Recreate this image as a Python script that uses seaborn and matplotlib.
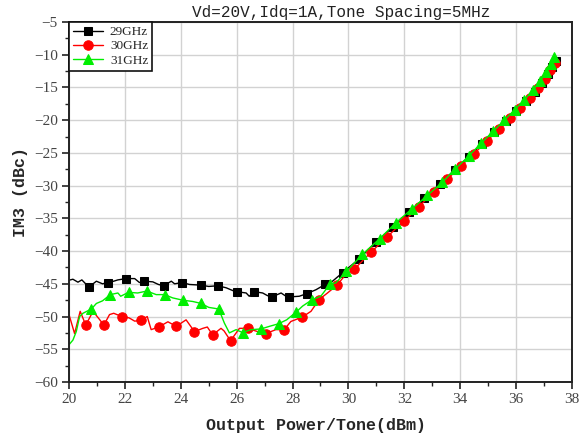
import numpy as np
import pandas as pd
import matplotlib
matplotlib.use("Agg")
import matplotlib.pyplot as plt
import seaborn as sns
from matplotlib.ticker import MultipleLocator

# ---------------- data ----------------
series_names = ["29GHz", "30GHz", "31GHz"]

# 29 GHz: marker points
x29_mk = [20.71, 21.39, 22.05, 22.70, 23.39, 24.05, 24.71, 25.32, 26.00, 26.63, 27.26, 27.88,
          28.51, 29.16, 29.79, 30.38, 30.98, 31.60, 32.17, 32.72, 33.28, 33.80, 34.30, 34.78,
          35.22, 35.63, 36.00, 36.35, 36.66, 36.93, 37.15, 37.30, 37.42]
y29_mk = [-45.5, -44.8, -44.2, -44.6, -45.3, -44.8, -45.2, -45.3, -46.2, -46.2, -47.0, -47.0,
          -46.5, -45.1, -43.3, -41.2, -38.6, -36.3, -34.1, -31.9, -29.7, -27.6, -25.6, -23.6,
          -21.8, -20.1, -18.6, -17.1, -15.7, -14.3, -13.0, -11.9, -10.9]
# 29 GHz: extra trace points (no marker)
x29_ln = [20.00, 20.14, 20.32, 20.46, 20.98, 21.20, 21.60, 21.75, 22.35, 22.52, 23.00, 23.20,
          23.66, 23.78, 24.31, 25.00, 25.62, 25.90, 26.34, 26.45, 26.93, 27.10, 27.59, 27.73,
          28.24, 28.84, 29.43]
y29_ln = [-44.45, -44.3, -44.75, -44.4, -44.6, -45.0, -44.6, -44.4, -44.2, -44.8, -44.7, -45.1,
          -44.6, -45.0, -45.1, -45.4, -45.6, -46.1, -46.4, -46.9, -46.4, -46.8, -46.4, -46.8,
          -46.9, -45.9, -44.6]

# 30 GHz
x30_mk = [20.60, 21.25, 21.89, 22.56, 23.21, 23.84, 24.49, 25.14, 25.78, 26.39, 27.05, 27.70,
          28.34, 28.95, 29.59, 30.20, 30.80, 31.39, 31.99, 32.53, 33.06, 33.54, 34.02, 34.50,
          34.95, 35.38, 35.78, 36.15, 36.48, 36.78, 37.03, 37.23, 37.38]
y30_mk = [-51.3, -51.3, -50.0, -50.6, -51.6, -51.5, -52.3, -52.8, -53.7, -51.8, -52.6, -52.0,
          -50.1, -47.4, -45.2, -42.8, -40.2, -37.8, -35.4, -33.2, -30.9, -29.0, -27.0, -25.1,
          -23.2, -21.4, -19.7, -18.1, -16.6, -15.1, -13.7, -12.4, -11.2]
x30_ln = [20.00, 20.20, 20.40, 20.86, 21.45, 21.60, 22.15, 22.35, 22.80, 22.94, 23.54, 24.19,
          24.79, 24.95, 25.44, 25.55, 26.10, 26.75, 27.40, 27.94, 28.66, 29.25, 29.90]
y30_ln = [-49.7, -52.6, -49.2, -49.2, -49.7, -49.5, -50.2, -50.7, -50.0, -52.0, -50.8, -50.5,
          -51.8, -51.6, -51.8, -52.2, -51.8, -52.3, -52.0, -50.75, -49.2, -46.4, -43.6]

# 31 GHz
x31_mk = [20.80, 21.48, 22.13, 22.79, 23.42, 24.07, 24.73, 25.36, 26.21, 26.87, 27.50, 28.12,
          28.71, 29.33, 29.93, 30.50, 31.12, 31.69, 32.26, 32.82, 33.36, 33.81, 34.30, 34.75,
          35.18, 35.58, 35.95, 36.30, 36.60, 36.87, 37.08, 37.24, 37.35]
y31_mk = [-48.85, -46.65, -46.3, -46.1, -46.65, -47.5, -48.0, -48.85, -52.45, -51.9, -51.1, -49.35,
          -47.4, -45.1, -43.1, -40.5, -38.1, -35.7, -33.6, -31.5, -29.5, -27.5, -25.5, -23.5,
          -21.7, -20.0, -18.4, -16.9, -15.4, -14.0, -12.6, -11.4, -10.3]
x31_ln = [20.00, 20.14, 20.26, 20.38, 20.50, 20.98, 21.20, 21.75, 21.85, 22.46, 23.12, 23.71,
          24.43, 25.00, 25.56, 25.74, 25.98, 26.51, 27.17, 27.79, 28.36, 29.01, 29.55]
y31_ln = [-54.3, -53.6, -52.3, -50.0, -49.5, -48.0, -47.6, -46.4, -46.9, -46.4, -46.65, -47.15,
          -47.7, -48.6, -51.0, -52.5, -52.0, -52.0, -51.5, -50.5, -48.4, -46.9, -44.85]

x_ticks = [20, 22, 24, 26, 28, 30, 32, 34, 36, 38]
y_ticks = [-60, -55, -50, -45, -40, -35, -30, -25, -20, -15, -10, -5]
title_text = "Vd=20V,Idq=1A,Tone Spacing=5MHz"
x_label = "Output Power/Tone(dBm)"
y_label = "IM3 (dBc)"

# ---------------- build tables ----------------
def build(xm, ym, xl, yl, name):
    df = pd.DataFrame({"x": list(xm) + list(xl), "y": list(ym) + list(yl),
                       "mk": [True] * len(xm) + [False] * len(xl)})
    df = df.sort_values("x", kind="stable").reset_index(drop=True)
    df["series"] = name
    return df

frames = [build(x29_mk, y29_mk, x29_ln, y29_ln, series_names[0]),
          build(x30_mk, y30_mk, x30_ln, y30_ln, series_names[1]),
          build(x31_mk, y31_mk, x31_ln, y31_ln, series_names[2])]

styles = [dict(color="#000000", marker="s", ms=5.8),
          dict(color="#ff0000", marker="o", ms=6.8),
          dict(color="#00ee00", marker="^", ms=7.2)]

# ---------------- plot ----------------
sns.set_style("white")
plt.rcParams["font.family"] = ["Liberation Serif", "DejaVu Serif"]

fig = plt.figure(figsize=(5.79, 4.40), dpi=100)
ax = fig.add_axes([69 / 579, 1 - 382 / 440, (572 - 69) / 579, (382 - 22) / 440])

for df, st in zip(frames, styles):
    idx = list(np.where(df["mk"].values)[0])
    sns.lineplot(data=df, x="x", y="y", ax=ax, estimator=None, sort=False,
                 color=st["color"], marker=st["marker"], markersize=st["ms"],
                 markeredgecolor=st["color"], markerfacecolor=st["color"],
                 markevery=idx, linewidth=1.0, label=df["series"].iloc[0])

ax.set_xlim(20, 38)
ax.set_ylim(-60, -5)
ax.set_xticks(x_ticks)
ax.set_yticks(y_ticks)
ax.set_yticklabels([str(v).replace("-", "\u2212") for v in y_ticks])
ax.xaxis.set_minor_locator(MultipleLocator(1))
ax.yaxis.set_minor_locator(MultipleLocator(2.5))
ax.grid(True, which="major", color="#d2d2d2", linewidth=1.0)
ax.set_axisbelow(True)
ax.tick_params(which="major", direction="out", length=5, width=1.2, color="#222222",
               labelsize=11, labelcolor="#444444", pad=3)
ax.tick_params(which="minor", direction="out", length=3, width=1.0, color="#222222")
ax.tick_params(axis="x", bottom=True)
ax.tick_params(axis="y", left=True)
ax.tick_params(axis="x", which="minor", bottom=True)
ax.tick_params(axis="y", which="minor", left=True)
for sp in ax.spines.values():
    sp.set_color("#222222")
    sp.set_linewidth(1.4)
    sp.set_visible(True)

ax.set_xlabel("")
ax.set_ylabel("")
fig.text(316 / 579, 1 - 425 / 440, x_label, ha="center", va="center",
         fontsize=12, fontweight="bold", family=["Liberation Mono", "DejaVu Sans Mono"])
fig.text(21 / 579, 1 - 192 / 440, y_label, ha="center", va="center", rotation=90,
         fontsize=12, fontweight="bold", family=["Liberation Mono", "DejaVu Sans Mono"])
fig.text(341 / 579, 1 - 13 / 440, title_text, ha="center", va="center",
         fontsize=11.5, family=["Liberation Mono", "DejaVu Sans Mono"], color="#222222")

leg = ax.legend(loc="upper left", borderaxespad=0, fancybox=False, frameon=True,
                fontsize=9.5, handlelength=2.3, labelspacing=0.15, borderpad=0.3,
                handletextpad=0.5)
leg.get_frame().set_edgecolor("#111111")
leg.get_frame().set_linewidth(1.2)
leg.get_frame().set_alpha(1)

fig.savefig("out.png", dpi=100)
